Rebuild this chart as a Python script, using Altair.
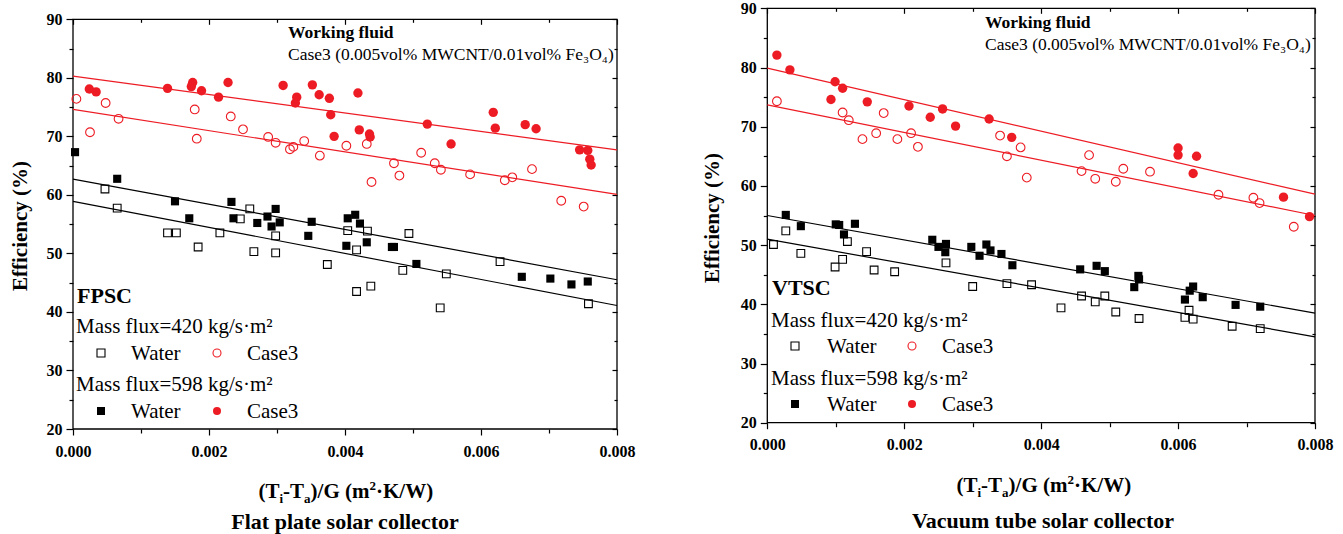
import altair as alt
import pandas as pd

W, H = 1343, 534
FONT = "Liberation Serif, Times New Roman, serif"
RED = "#ED1C24"
BLACK = "#000000"

XDOM = [0.0, 0.008]
YDOM = [20, 90]
X_MAJOR = [0.0, 0.002, 0.004, 0.006, 0.008]
X_MINOR = [0.001, 0.003, 0.005, 0.007]
Y_MAJOR = [20, 30, 40, 50, 60, 70, 80, 90]
Y_MINOR = [25, 35, 45, 55, 65, 75, 85]

# ---------------- Flat plate solar collector (FPSC) ----------------
L_C598_X = [0.00024, 0.00034, 0.00139, 0.00176, 0.00174, 0.00189, 0.00214, 0.00228, 0.00309, 0.00329,
            0.00327, 0.00352, 0.00362, 0.00377, 0.00379, 0.00384, 0.00419, 0.00421, 0.00436, 0.00437,
            0.00521, 0.00556, 0.00618, 0.00621, 0.00665, 0.00681, 0.00745, 0.00757, 0.00760, 0.00762]
L_C598_Y = [78.1, 77.6, 78.2, 79.2, 78.5, 77.8, 76.7, 79.2, 78.7, 76.7,
            75.7, 78.8, 77.1, 76.5, 73.7, 70.0, 77.4, 71.1, 70.4, 69.9,
            72.1, 68.7, 74.1, 71.4, 72.0, 71.3, 67.7, 67.6, 66.1, 65.1]

L_C420_X = [0.00005, 0.00025, 0.00048, 0.00067, 0.00179, 0.00182, 0.00232, 0.00250, 0.00287, 0.00298,
            0.00319, 0.00324, 0.00340, 0.00363, 0.00402, 0.00432, 0.00439, 0.00472, 0.00480, 0.00512,
            0.00532, 0.00541, 0.00584, 0.00635, 0.00646, 0.00675, 0.00718, 0.00751]
L_C420_Y = [76.4, 70.7, 75.7, 73.0, 74.6, 69.6, 73.4, 71.2, 69.9, 68.9,
            67.8, 68.2, 69.2, 66.7, 68.4, 68.7, 62.2, 65.4, 63.3, 67.2,
            65.4, 64.3, 63.5, 62.5, 63.0, 64.4, 59.0, 58.0]

L_W598_X = [0.00003, 0.00065, 0.00150, 0.00171, 0.00233, 0.00236, 0.00271, 0.00286, 0.00298, 0.00292,
            0.00304, 0.00351, 0.00346, 0.00402, 0.00404, 0.00415, 0.00422, 0.00432, 0.00469, 0.00472,
            0.00505, 0.00660, 0.00702, 0.00733, 0.00757]
L_W598_Y = [67.3, 62.75, 58.9, 56.0, 58.8, 56.0, 55.2, 56.3, 57.6, 54.6,
            55.3, 55.4, 53.0, 51.3, 56.0, 56.6, 55.1, 51.9, 51.1, 51.1,
            48.2, 46.0, 45.7, 44.7, 45.2]

L_W420_X = [0.00047, 0.00065, 0.00139, 0.00152, 0.00184, 0.00216, 0.00246, 0.00260, 0.00266, 0.00298,
            0.00298, 0.00374, 0.00404, 0.00417, 0.00417, 0.00433, 0.00494, 0.00485, 0.00549, 0.00438,
            0.00540, 0.00628, 0.00758]
L_W420_Y = [61.0, 57.75, 53.5, 53.5, 51.1, 53.5, 55.9, 57.6, 50.3, 53.0,
            50.1, 48.1, 53.9, 50.6, 43.5, 53.8, 53.4, 47.1, 46.5, 44.4,
            40.7, 48.6, 41.4]

# fitted lines (value at x = 0 and x = 0.008)
L_FIT_X = [0.0, 0.008]
L_FIT_C598 = [80.3, 67.7]
L_FIT_C420 = [74.6, 60.1]
L_FIT_W598 = [62.7, 45.5]
L_FIT_W420 = [58.9, 41.1]

# ---------------- Vacuum tube solar collector (VTSC) ----------------
R_C598_X = [0.00014, 0.00033, 0.00093, 0.00099, 0.00110, 0.00146, 0.00207, 0.00238, 0.00256, 0.00275,
            0.00324, 0.00357, 0.00600, 0.00600, 0.00627, 0.00622, 0.00754, 0.00792]
R_C598_Y = [82.1, 79.6, 74.6, 77.6, 76.5, 74.2, 73.5, 71.6, 73.0, 70.1,
            71.3, 68.2, 66.4, 65.2, 65.0, 62.1, 58.1, 54.8]

R_C420_X = [0.00014, 0.00110, 0.00119, 0.00139, 0.00159, 0.00170, 0.00190, 0.00210, 0.00220, 0.00340,
            0.00350, 0.00370, 0.00379, 0.00470, 0.00459, 0.00479, 0.00509, 0.00520, 0.00559, 0.00659,
            0.00710, 0.00719, 0.00769]
R_C420_Y = [74.3, 72.4, 71.1, 67.9, 68.9, 72.3, 67.9, 68.9, 66.6, 68.5,
            65.0, 66.5, 61.4, 65.2, 62.5, 61.2, 60.7, 62.9, 62.4, 58.5,
            58.0, 57.1, 53.1]

R_W598_X = [0.00027, 0.00049, 0.00100, 0.00105, 0.00112, 0.00128, 0.00241, 0.00250, 0.00261, 0.00260,
            0.00298, 0.00310, 0.00320, 0.00326, 0.00342, 0.00358, 0.00457, 0.00481, 0.00493, 0.00542,
            0.00543, 0.00536, 0.00622, 0.00617, 0.00610, 0.00636, 0.00684, 0.00720]
R_W598_Y = [55.1, 53.2, 53.5, 53.4, 51.8, 53.6, 50.9, 49.7, 50.2, 48.8,
            49.7, 48.2, 50.1, 49.1, 48.5, 46.6, 45.9, 46.5, 45.6, 44.8,
            44.2, 42.9, 43.0, 42.3, 40.8, 41.2, 39.9, 39.6]

R_W420_X = [0.00009, 0.00027, 0.00049, 0.00099, 0.00110, 0.00117, 0.00145, 0.00156, 0.00186, 0.00261,
            0.00300, 0.00350, 0.00386, 0.00429, 0.00459, 0.00479, 0.00493, 0.00509, 0.00543, 0.00610,
            0.00616, 0.00622, 0.00679, 0.00720]
R_W420_Y = [50.1, 52.4, 48.6, 46.3, 47.6, 50.6, 48.9, 45.8, 45.5, 47.0,
            43.0, 43.5, 43.3, 39.4, 41.4, 40.4, 41.4, 38.7, 37.6, 37.8,
            39.0, 37.5, 36.3, 35.9]

R_FIT_X = [0.0, 0.008]
R_FIT_C598 = [79.9, 58.6]
R_FIT_C420 = [73.7, 55.0]
R_FIT_W598 = [55.0, 38.5]
R_FIT_W420 = [51.0, 34.5]

# ---------------- layout (pixel positions of each plot frame) ----------------
PANELS = {
    "L": dict(xr=[73, 617], yr=[429, 19.3], name="FPSC", sub="Flat plate solar collector",
              wf=(288, 38), case=(288, 60), tag=(77, 303), mf=(76, 333), dy_row=20, row_gap=58,
              leg=(101, 131, 217, 247), ytitle=(21, 226), xtitle_base=498, sub_base=529, cx=345),
    "R": dict(xr=[767.3, 1315], yr=[422.7, 8.3], name="VTSC", sub="Vacuum tube solar collector",
              wf=(985, 28), case=(985, 50), tag=(772, 295), mf=(771, 327), dy_row=19, row_gap=58,
              leg=(795, 827, 912, 942), ytitle=(713, 218), xtitle_base=492, sub_base=528, cx=1043),
}

SERIES = {
    "L": [(L_W420_X, L_W420_Y, "square", False, BLACK),
          (L_W598_X, L_W598_Y, "square", True, BLACK),
          (L_C420_X, L_C420_Y, "circle", False, RED),
          (L_C598_X, L_C598_Y, "circle", True, RED)],
    "R": [(R_W420_X, R_W420_Y, "square", False, BLACK),
          (R_W598_X, R_W598_Y, "square", True, BLACK),
          (R_C420_X, R_C420_Y, "circle", False, RED),
          (R_C598_X, R_C598_Y, "circle", True, RED)],
}
FITS = {
    "L": [(L_FIT_X, L_FIT_W420, BLACK), (L_FIT_X, L_FIT_W598, BLACK),
          (L_FIT_X, L_FIT_C420, RED), (L_FIT_X, L_FIT_C598, RED)],
    "R": [(R_FIT_X, R_FIT_W420, BLACK), (R_FIT_X, R_FIT_W598, BLACK),
          (R_FIT_X, R_FIT_C420, RED), (R_FIT_X, R_FIT_C598, RED)],
}


def axis(orient, values, tick, offset, labels=False, fmt=None, pad=4):
    kw = dict(orient=orient, values=values, tickSize=tick, offset=offset, labels=labels,
              domain=False, grid=False, title=None, ticks=True, tickColor="black", tickWidth=1.2)
    if labels:
        kw.update(labelFont=FONT, labelFontSize=16, labelFontWeight="bold", labelColor="black",
                  labelPadding=pad, labelFlush=False, labelOverlap=False)
        if fmt:
            kw["format"] = fmt
    return alt.Axis(**kw)


layers = []
for key, p in PANELS.items():
    x0, x1 = p["xr"]
    yb, yt = p["yr"]
    xs = alt.Scale(domain=XDOM, range=p["xr"], nice=False, zero=False)
    ys = alt.Scale(domain=YDOM, range=p["yr"], nice=False, zero=False)

    axes = [
        (axis("bottom", X_MAJOR, 6, yb - H, True, ".3f", 8), axis("left", Y_MAJOR, 7, -x0, True, "d", 4)),
        (axis("top", X_MAJOR, 5, -(yt + 5)), axis("right", Y_MAJOR, 5, (x1 - 5) - W)),
        (axis("bottom", X_MINOR, 4, yb - H), axis("left", Y_MINOR, 4, -x0)),
        (axis("top", X_MINOR, 3, -(yt + 3)), axis("right", Y_MINOR, 3, (x1 - 3) - W)),
    ]

    # frame
    frame = pd.DataFrame({"x": [XDOM[0]], "x2": [XDOM[1]], "y": [YDOM[0]], "y2": [YDOM[1]]})
    layers.append(alt.Chart(frame).mark_rect(fillOpacity=0, stroke="black", strokeWidth=1.3).encode(
        x=alt.X("x:Q", scale=xs, axis=axes[0][0]), x2="x2",
        y=alt.Y("y:Q", scale=ys, axis=axes[0][1]), y2="y2"))

    # fitted lines (carry the mirrored / minor axes)
    for i, (fx, fy, col) in enumerate(FITS[key]):
        ax_x, ax_y = (axes[i + 1] if i + 1 < len(axes) else (None, None))
        df = pd.DataFrame({"x": fx, "y": fy})
        layers.append(alt.Chart(df).mark_line(color=col, strokeWidth=1.2).encode(
            x=alt.X("x:Q", scale=xs, axis=ax_x), y=alt.Y("y:Q", scale=ys, axis=ax_y)))

    # data points
    for sx, sy, shape, filled, col in SERIES[key]:
        df = pd.DataFrame({"x": sx, "y": sy})
        size = (66 if shape == "square" else 88) if filled else (60 if shape == "square" else 76)
        layers.append(alt.Chart(df).mark_point(shape=shape, filled=filled, color=col, size=size,
                                               opacity=1, strokeWidth=1.1).encode(
            x=alt.X("x:Q", scale=xs, axis=None), y=alt.Y("y:Q", scale=ys, axis=None)))

# ---------------- texts ----------------
bold_left, norm_left, bold_center, rot = [], [], [], []
sym_open, sym_fill = [], []
for key, p in PANELS.items():
    bold_left.append(("Working fluid", p["wf"][0], p["wf"][1], 17.5))
    norm_left.append(("Case3 (0.005vol% MWCNT/0.01vol% Fe\u2083O\u2084)", p["case"][0], p["case"][1], 17.5))
    bold_left.append((p["name"], p["tag"][0], p["tag"][1], 22))
    mx, my = p["mf"]
    sq_x, w_x, ci_x, c_x = p["leg"]
    for j, flux in enumerate(["420", "598"]):
        by = my + j * p["row_gap"]
        norm_left.append((f"Mass flux={flux} kg/s\u00b7m\u00b2", mx, by, 21))
        ry = by + p["dy_row"]
        norm_left.append(("Water", w_x, ry + 7, 21))
        norm_left.append(("Case3", c_x, ry + 7, 21))
        target = sym_open if j == 0 else sym_fill
        target.append((sq_x, ry, "square", BLACK))
        target.append((ci_x, ry, "circle", RED))
    # x axis title with sub/superscripts
    s = p["cx"] - 86.5
    b = p["xtitle_base"]
    segs = [("(T", 0, 0, 21), ("i", 21.0, 5, 13), ("-T", 24.6, 0, 21), ("a", 45.6, 5, 13),
            (")/G (m", 52.1, 0, 21), ("2", 111.0, -8, 13), ("\u00b7K/W)", 117.5, 0, 21)]
    for t, dx, dy, fs in segs:
        bold_left.append((t, s + dx, b + dy, fs))
    bold_center.append((p["sub"], p["cx"], p["sub_base"], 22))
    rot.append(("Efficiency (%)", p["ytitle"][0], p["ytitle"][1], 21))


def text_layer(rows, align, weight, angle=0, baseline="alphabetic"):
    df = pd.DataFrame(rows, columns=["t", "px", "py", "fs"])
    kw = dict(align=align, baseline=baseline, font=FONT, fontWeight=weight, color="black")
    if angle:
        kw["angle"] = angle
    return alt.Chart(df).mark_text(**kw).encode(
        x=alt.X("px:Q", scale=None, axis=None), y=alt.Y("py:Q", scale=None, axis=None),
        text="t:N", size=alt.Size("fs:Q", scale=None, legend=None))


layers.append(text_layer(bold_left, "left", "bold"))
layers.append(text_layer(norm_left, "left", "normal"))
layers.append(text_layer(bold_center, "center", "bold"))
layers.append(text_layer(rot, "center", "bold", angle=270, baseline="middle"))


def sym_layer(rows, filled):
    df = pd.DataFrame(rows, columns=["px", "py", "shape", "col"])
    return alt.Chart(df).mark_point(filled=filled, opacity=1, size=64, strokeWidth=1.1).encode(
        x=alt.X("px:Q", scale=None, axis=None), y=alt.Y("py:Q", scale=None, axis=None),
        shape=alt.Shape("shape:N", scale=None, legend=None),
        color=alt.Color("col:N", scale=None, legend=None))


layers.append(sym_layer(sym_open, False))
layers.append(sym_layer(sym_fill, True))

chart = alt.layer(*layers).resolve_scale(
    x="independent", y="independent"
).resolve_axis(
    x="independent", y="independent"
).properties(
    width=W, height=H, padding=0, autosize=alt.AutoSizeParams(type="none"),
    background="white"
).configure_view(stroke=None)

chart.save("out.html", embed_options={"renderer": "svg", "actions": False})
